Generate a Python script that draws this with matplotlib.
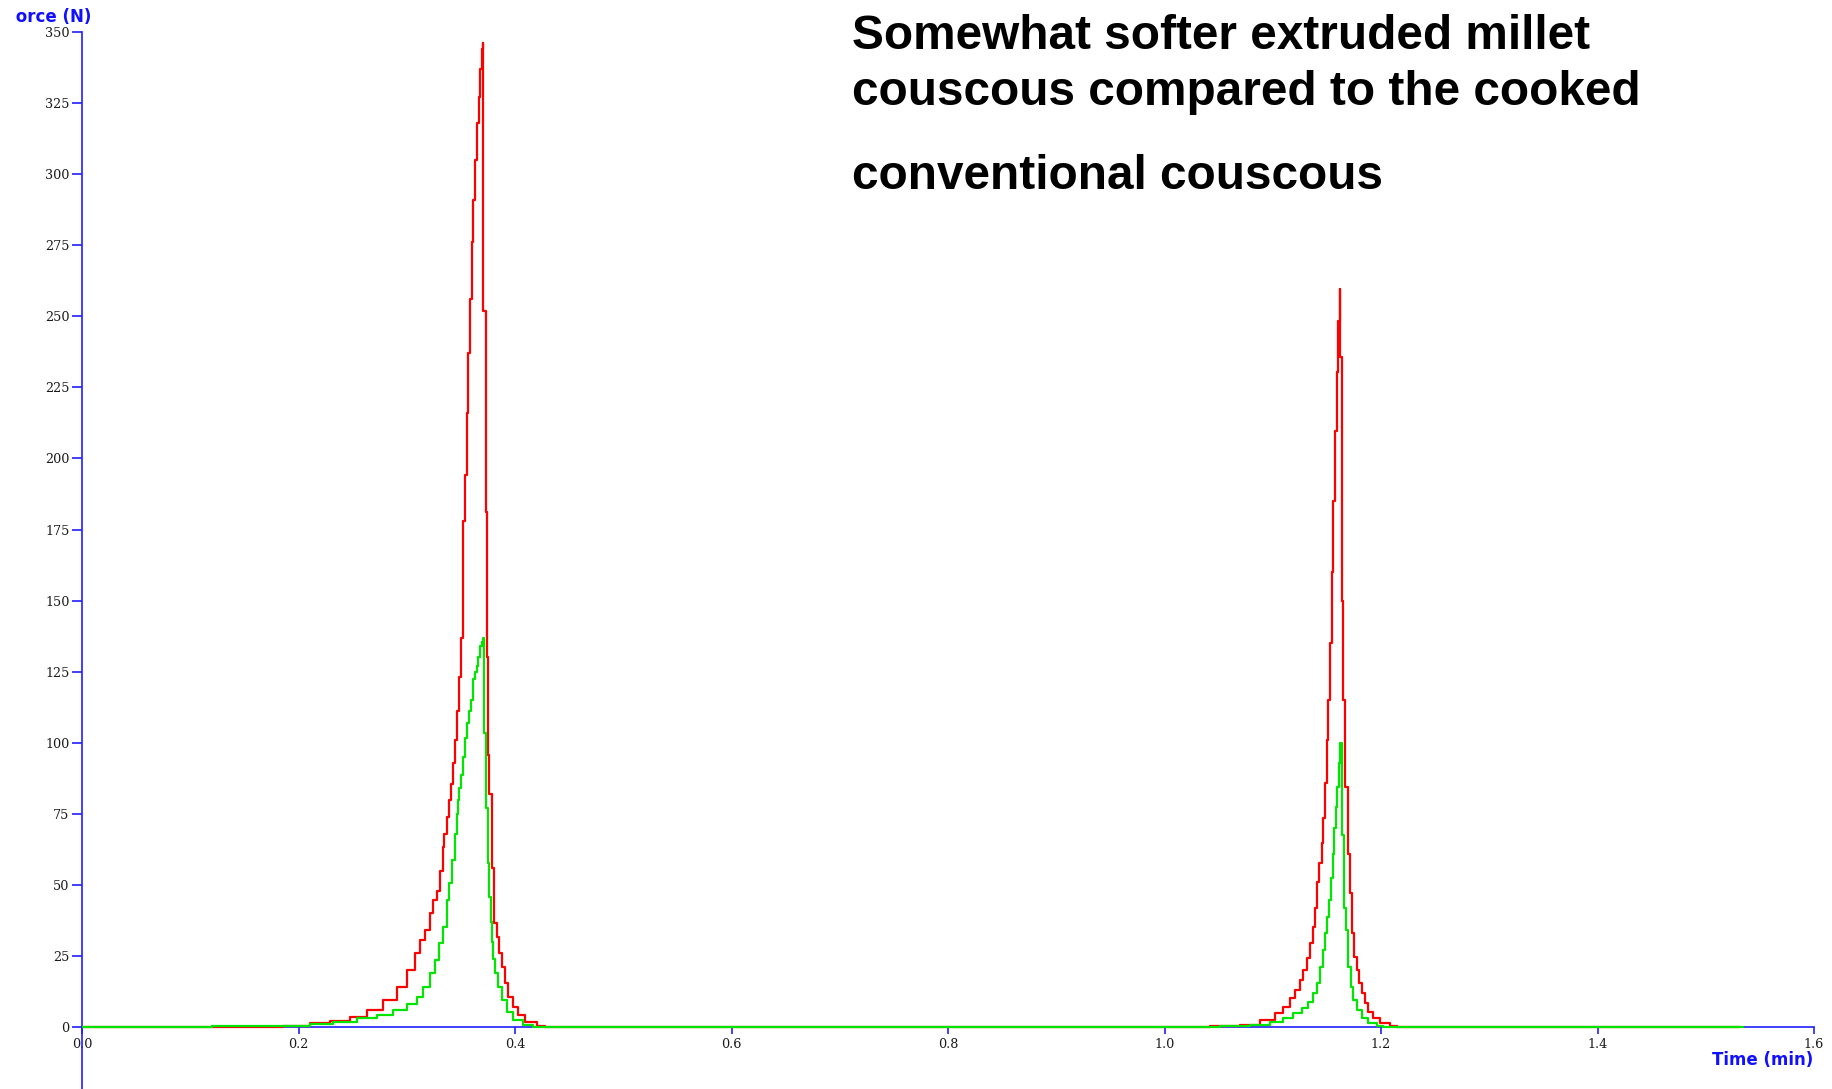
import matplotlib

matplotlib.use("Agg")

import matplotlib.pyplot as plt
from matplotlib.transforms import Bbox, TransformedBbox

# force (N) against time (min)
red_t = [0.0, 0.170, 0.1860, 0.2106, 0.2291, 0.2476, 0.2630, 0.2783, 0.2907, 0.3000,
         0.3076, 0.3122, 0.3169, 0.3215, 0.3240, 0.3277, 0.3307, 0.3332, 0.3347, 0.3369,
         0.3393, 0.3409, 0.3424, 0.3443, 0.3461, 0.3483, 0.3501, 0.3517, 0.3522, 0.3538,
         0.3554, 0.3569, 0.3584, 0.3600, 0.3615, 0.3630, 0.3646, 0.3665, 0.3677, 0.3692,
         0.3700, 0.3707, 0.3729, 0.3744, 0.3755, 0.3763, 0.3785, 0.3806, 0.3831, 0.3855,
         0.3877, 0.3908, 0.3938, 0.3984, 0.4031, 0.4092, 0.4200, 0.4277,
         1.0420, 1.0697, 1.0882, 1.1021, 1.1097, 1.1159, 1.1205, 1.1252, 1.1282, 1.1314,
         1.1344, 1.1369, 1.1388, 1.1406, 1.1430, 1.1452, 1.1467, 1.1483, 1.1498, 1.1513,
         1.1529, 1.1545, 1.1560, 1.1575, 1.1591, 1.1606, 1.1617, 1.1621, 1.1637, 1.1652,
         1.1667, 1.1698, 1.1714, 1.1729, 1.1750, 1.1775, 1.1796, 1.1822, 1.1852, 1.1883,
         1.1929, 1.1991, 1.2083, 1.2145, 1.5300]
red_f = [0.0, 0.1, 0.35, 1.3, 2.2, 3.6, 6.0, 9.5, 14.2, 20.0,
         26.0, 30.6, 34.0, 40.0, 44.7, 48.0, 55.0, 63.4, 68.0, 74.0,
         79.8, 85.5, 93.0, 101.0, 111.0, 123.0, 137.0, 153.0, 178.0, 194.0,
         216.0, 237.0, 256.0, 276.0, 291.0, 305.0, 318.0, 327.0, 337.0, 344.0,
         346.0, 252.0, 181.0, 130.0, 95.7, 82.0, 56.0, 36.6, 31.8, 26.0,
         21.2, 15.5, 10.7, 7.1, 4.2, 1.9, 0.3, 0.0,
         0.2, 0.8, 2.5, 4.8, 7.1, 10.2, 13.0, 16.5, 20.0, 24.3,
         29.5, 35.3, 41.9, 51.0, 57.7, 64.7, 73.5, 85.7, 101.0, 115.0,
         135.0, 160.0, 185.0, 209.7, 230.5, 248.4, 259.5, 235.8, 150.0, 115.0,
         84.5, 61.0, 47.0, 33.0, 24.7, 20.0, 15.5, 12.0, 8.4, 5.4,
         3.1, 1.3, 0.3, 0.0, 0.0]

green_t = [0.0, 0.120, 0.160, 0.1891, 0.2106, 0.2321, 0.2538, 0.2722, 0.2876, 0.3000,
           0.3092, 0.3153, 0.3215, 0.3261, 0.3301, 0.3332, 0.3369, 0.3393, 0.3415, 0.3446,
           0.3461, 0.3471, 0.3483, 0.3501, 0.3517, 0.3538, 0.3554, 0.3572, 0.3591, 0.3609,
           0.3630, 0.3646, 0.3661, 0.3677, 0.3692, 0.3707, 0.3716, 0.3735, 0.3748, 0.3763,
           0.3774, 0.3785, 0.3795, 0.3815, 0.3840, 0.3877, 0.3923, 0.3984, 0.4077, 0.4166,
           1.0513, 1.0790, 1.0975, 1.1097, 1.1190, 1.1267, 1.1328, 1.1374, 1.1406, 1.1436,
           1.1461, 1.1483, 1.1498, 1.1520, 1.1538, 1.1554, 1.1569, 1.1584, 1.1596, 1.1612,
           1.1621, 1.1637, 1.1658, 1.1677, 1.1698, 1.1720, 1.1744, 1.1775, 1.1822, 1.1883,
           1.1961, 1.2022, 1.5340]
green_f = [0.0, 0.2, 0.3, 0.45, 1.05, 1.9, 3.1, 4.2, 6.0, 8.1,
           10.7, 14.2, 18.9, 23.6, 29.4, 35.3, 44.7, 50.5, 58.7, 68.0,
           75.0, 79.8, 84.0, 88.6, 95.0, 101.6, 107.0, 111.0, 115.0, 122.4,
           125.0, 127.0, 130.0, 134.0, 135.5, 137.0, 103.5, 77.0, 57.7, 45.8,
           37.0, 30.0, 24.0, 19.0, 14.2, 9.5, 5.4, 2.5, 0.7, 0.0,
           0.2, 0.8, 1.8, 3.1, 4.8, 6.6, 8.9, 11.9, 15.4, 21.2,
           27.0, 33.0, 38.8, 44.7, 52.4, 61.0, 70.0, 77.5, 84.5, 92.7,
           100.0, 67.5, 41.7, 34.0, 21.2, 14.2, 9.5, 6.0, 3.1, 1.3,
           0.3, 0.0, 0.0]

x_ticks = [0.0, 0.2, 0.4, 0.6, 0.8, 1.0, 1.2, 1.4, 1.6]
y_ticks = list(range(0, 351, 25))
title_lines = ["Somewhat softer extruded millet",
               "couscous compared to the cooked",
               "conventional couscous"]

W, H = 1832, 1089
fig = plt.figure(figsize=(W / 100, H / 100), dpi=100)
# axes placed so that x 0..1.6 spans px 82..1814 and y=350 sits at px 32 from top
ax = fig.add_axes([82 / W, 0.0, (1814 - 82) / W, (H - 32) / H])

# traces sit above the axis line, as in the original (green baseline shows over blue)
ax.plot(red_t, red_f, drawstyle="steps-post", color="#ff0000", lw=1.6, zorder=3)
ax.plot(green_t, green_f, drawstyle="steps-post", color="#00e600", lw=1.6, zorder=4)

ax.set_xlim(0, 1.6)
ax.set_ylim(-21.8, 350)

axis_blue = "#2020ff"
for side in ("top", "right"):
    ax.spines[side].set_visible(False)
ax.spines["left"].set_color(axis_blue)
ax.spines["left"].set_linewidth(1.2)
ax.spines["bottom"].set_color(axis_blue)
ax.spines["bottom"].set_linewidth(1.2)
ax.spines["bottom"].set_position(("data", 0))
ax.spines["bottom"].set_bounds(0, 1.6)

ax.set_xticks(x_ticks)
ax.set_xticklabels([f"{v:.1f}" for v in x_ticks])
ax.set_yticks(y_ticks)
ax.set_yticklabels([str(v) for v in y_ticks])
ax.tick_params(axis="y", direction="out", length=7, width=1.2, color=axis_blue, pad=2)
ax.tick_params(axis="x", direction="out", length=5, width=1.2, color=axis_blue, pad=3)
for lab in ax.get_xticklabels() + ax.get_yticklabels():
    lab.set_fontfamily("DejaVu Serif")
    lab.set_fontsize(9.2)
    lab.set_color("#1a1a1a")

# y label is cut by the left edge in the original, only "orce (N)" shows
ylab = fig.text(91 / W, 1 - 21.7 / H, "Force (N)", ha="right", va="baseline",
                color="#1010ff", fontweight="bold", family="DejaVu Sans", fontsize=12)
ylab.set_clip_box(TransformedBbox(Bbox([[16 / W, 0], [1, 1]]), fig.transFigure))
ylab.set_clip_on(True)

fig.text(1813 / W, 24 / H, "Time (min)", ha="right", va="baseline",
         color="#1010ff", fontweight="bold", family="DejaVu Sans", fontsize=12)

for line, base in zip(title_lines, [49, 105, 189]):
    fig.text(852 / W, 1 - base / H, line, ha="left", va="baseline",
             fontsize=34.4, fontweight="bold", family="Liberation Sans", color="black")

fig.savefig("out.png", dpi=100)
plt.close(fig)
